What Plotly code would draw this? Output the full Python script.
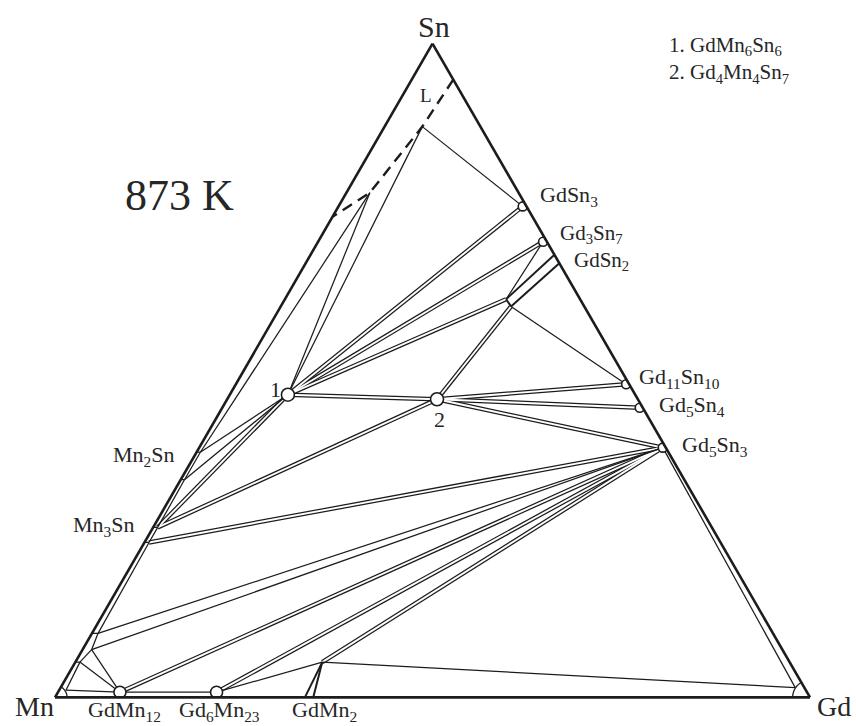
import math
import plotly.graph_objects as go

# ---------------------------------------------------------------------------
# Gd-Mn-Sn isothermal section, compositions in at.%
# ---------------------------------------------------------------------------
point_names = [
    "L_e1", "Lv", "Lw", "L_e2",
    "GdSn3", "Gd3Sn7", "GdSn2_e1", "GdSn2_e2", "GdSn2_s1", "GdSn2_s2",
    "Gd11Sn10", "Gd5Sn4", "Gd5Sn3",
    "P1", "P2",
    "Mn2Sn_a", "Mn2Sn_b", "Mn3Sn_a", "Mn3Sn_b",
    "bMn_a", "bMn_m", "bMn_b", "aMn",
    "GdMn12", "Gd6Mn23", "GdMn2_b1", "GdMn2_b2", "GdMn2_t",
    "Gd_ss",
]
point_sn = [
    94.5, 87.3, 77.2, 73.5,
    75.1, 69.7, 67.7, 66.4, 60.9, 59.8,
    47.9, 44.3, 38.2,
    46.3, 45.6,
    37.5, 33.3, 26.0, 23.7,
    9.8, 7.3, 5.4, 1.1,
    0.8, 0.8, 0.0, 0.0, 5.4,
    1.5,
]
point_gd = [
    5.5, 5.0, 3.1, 0.0,
    24.4, 29.8, 32.3, 33.6, 29.3, 30.5,
    51.7, 55.3, 61.4,
    7.7, 27.8,
    0.5, 0.5, 0.6, 0.6,
    0.8, 1.2, 0.6, 0.9,
    8.2, 21.0, 33.1, 34.2, 32.7,
    97.3,
]
point_mn = [round(100 - s - g, 2) for s, g in zip(point_sn, point_gd)]

# liquidus boundary of the Sn-rich liquid
liquidus_path = ["L_e1", "Lv", "Lw", "L_e2"]

# two-phase fields drawn as double lines
tie_double = [
    ("P1", "GdSn3"), ("P1", "Gd3Sn7"), ("P1", "GdSn2_s1"), ("P1", "P2"),
    ("P1", "Mn3Sn_a"),
    ("P2", "GdSn2_s2"), ("P2", "Gd11Sn10"), ("P2", "Gd5Sn4"), ("P2", "Gd5Sn3"),
    ("P2", "Mn3Sn_a"),
    ("Gd5Sn3", "Mn3Sn_b"), ("Gd5Sn3", "GdMn12"), ("Gd5Sn3", "Gd6Mn23"),
    ("Gd5Sn3", "GdMn2_t"),
]

# single tie lines / phase field borders
tie_single = [
    ("Lv", "GdSn3"), ("Lv", "P1"), ("Lw", "P1"), ("Lw", "Mn2Sn_a"),
    ("P1", "Mn2Sn_a"), ("P1", "Mn2Sn_b"),
    ("Gd3Sn7", "GdSn2_s1"), ("GdSn2_s2", "Gd11Sn10"),
    ("bMn_a", "Gd5Sn3"), ("bMn_m", "Gd5Sn3"), ("bMn_m", "GdMn12"),
    ("bMn_b", "GdMn12"), ("bMn_b", "aMn"), ("aMn", "GdMn12"),
    ("GdMn12", "Gd6Mn23"), ("Gd6Mn23", "GdMn2_t"), ("GdMn2_t", "Gd_ss"),
    ("Gd5Sn3", "Gd_ss"),
    ("Mn2Sn_a", "Mn2Sn_b"), ("Mn2Sn_b", "Mn3Sn_a"), ("Mn3Sn_a", "Mn3Sn_b"),
    ("Mn3Sn_b", "bMn_a"), ("bMn_a", "bMn_m"), ("bMn_m", "bMn_b"),
]

# homogeneity ranges of GdSn2 and GdMn2
band_lines = [
    ("GdSn2_e1", "GdSn2_s1"), ("GdSn2_e2", "GdSn2_s2"), ("GdSn2_s1", "GdSn2_s2"),
    ("GdMn2_b1", "GdMn2_t"), ("GdMn2_b2", "GdMn2_t"),
]

# Mn-Sn phases whose Gd-saturated limits are joined to the binary edge
edge_ticks = ["Mn2Sn_a", "Mn2Sn_b", "Mn3Sn_a", "Mn3Sn_b", "bMn_a", "bMn_b"]

circle_large = ["P1", "P2"]
circle_small = ["GdSn3", "Gd3Sn7", "Gd11Sn10", "Gd5Sn4", "Gd5Sn3"]
circle_base = ["GdMn12", "Gd6Mn23"]

INK = "#1c1c1c"
TXT = "#262626"
FONT = "Liberation Serif"


def comp(name):
    i = point_names.index(name)
    return point_sn[i], point_mn[i], point_gd[i]


def seg_trace(pairs, color, width, dash="solid"):
    a, b, c = [], [], []
    for p, q in pairs:
        for n in (p, q):
            s, m, g = comp(n)
            a.append(s); b.append(m); c.append(g)
        a.append(None); b.append(None); c.append(None)
    return go.Scatterternary(a=a, b=b, c=c, mode="lines",
                             line=dict(color=color, width=width, dash=dash),
                             hoverinfo="skip", showlegend=False)


def corner_arc(corner, radius, t0, t1, n=16):
    # small arc round a pure-element corner, built in the ternary plane
    cx, cy = corner
    a, b, c = [], [], []
    for k in range(n + 1):
        t = math.radians(t0 + (t1 - t0) * k / n)
        x = cx + radius * math.cos(t)
        y = cy + radius * math.sin(t)
        sa = y * 2 / math.sqrt(3)
        sc = x - sa / 2
        a.append(100 * sa); c.append(100 * sc); b.append(100 * (1 - sa - sc))
    return go.Scatterternary(a=a, b=b, c=c, mode="lines",
                             line=dict(color=INK, width=1.3),
                             hoverinfo="skip", showlegend=False)


fig = go.Figure()

# double lines: dark stroke with a white core
fig.add_trace(seg_trace(tie_double, INK, 4.4))
fig.add_trace(seg_trace(tie_double, "white", 1.9))
fig.add_trace(seg_trace(tie_single, INK, 1.25))
fig.add_trace(seg_trace(band_lines, INK, 2.0))

ta, tb, tc = [], [], []
for n in edge_ticks:
    s0, m0, g0 = comp(n)
    ta += [s0, s0, None]; tb += [m0, 100 - s0, None]; tc += [g0, 0, None]
fig.add_trace(go.Scatterternary(a=ta, b=tb, c=tc, mode="lines",
                                line=dict(color=INK, width=1.25),
                                hoverinfo="skip", showlegend=False))

# Sn-rich liquid boundary
la = [comp(n)[0] for n in liquidus_path]
lb = [comp(n)[1] for n in liquidus_path]
lc = [comp(n)[2] for n in liquidus_path]
fig.add_trace(go.Scatterternary(a=la, b=lb, c=lc, mode="lines",
                                line=dict(color=INK, width=2.4, dash="11px,7px"),
                                hoverinfo="skip", showlegend=False))

# solid solutions at the Mn and Gd corners
fig.add_trace(corner_arc((0.0, 0.0), 0.016, 0, 60))
fig.add_trace(corner_arc((1.0, 0.0), 0.023, 120, 180))


def circles(names, size):
    return go.Scatterternary(
        a=[comp(n)[0] for n in names], b=[comp(n)[1] for n in names],
        c=[comp(n)[2] for n in names], mode="markers",
        marker=dict(symbol="circle", size=size, color="white",
                    line=dict(color=INK, width=1.6)),
        hoverinfo="skip", showlegend=False)


fig.add_trace(circles(circle_base, 12))
fig.add_trace(circles(circle_small, 9))
fig.add_trace(circles(circle_large, 13))

axis = dict(showgrid=False, showticklabels=False, ticks="", showline=True,
            linecolor=INK, linewidth=2.6, title=dict(text=""))

W, H = 856, 726
L, R, T, B = 55, 46, 43, 28
PW, PH = W - L - R, H - T - B


def note(text, X, Y, size, xanchor="left"):
    # X, Y: anchor x and text baseline in page pixels
    fig.add_annotation(text=text, xref="paper", yref="paper",
                       x=(X - L) / PW, y=(H - B - (Y - 0.34 * size)) / PH,
                       xanchor=xanchor, yanchor="middle", showarrow=False,
                       font=dict(family=FONT, size=size, color=TXT))


note("Sn", 434, 37, 30, "center")
note("Mn", 13, 716, 28)
note("Gd", 815, 716, 28)
note("873 K", 123, 210, 44)
note("L", 418, 102, 19)
note("1", 268, 397, 22)
note("2", 432, 427, 22)
note("GdSn<sub>3</sub>", 538, 203, 22)
note("Gd<sub>3</sub>Sn<sub>7</sub>", 558, 241, 21)
note("GdSn<sub>2</sub>", 572, 268, 21)
note("Gd<sub>11</sub>Sn<sub>10</sub>", 637, 385, 22)
note("Gd<sub>5</sub>Sn<sub>4</sub>", 657, 413, 22)
note("Gd<sub>5</sub>Sn<sub>3</sub>", 680, 453, 22)
note("Mn<sub>2</sub>Sn", 177, 463, 22, "right")
note("Mn<sub>3</sub>Sn", 137, 533, 22, "right")
note("GdMn<sub>12</sub>", 86, 718, 22)
note("Gd<sub>6</sub>Mn<sub>23</sub>", 177, 718, 22)
note("GdMn<sub>2</sub>", 290, 718, 22)

# compound key, two lines in one block
fig.add_annotation(
    text="1. GdMn<sub>6</sub>Sn<sub>6</sub><br>2. Gd<sub>4</sub>Mn<sub>4</sub>Sn<sub>7</sub>",
    xref="paper", yref="paper", x=(667 - L) / PW, y=(H - B - 60) / PH,
    xanchor="left", yanchor="middle", align="left", showarrow=False,
    font=dict(family=FONT, size=21, color=TXT))

fig.update_layout(
    width=W, height=H,
    margin=dict(l=L, r=R, t=T, b=B, autoexpand=False),
    paper_bgcolor="white", plot_bgcolor="white",
    showlegend=False,
    ternary=dict(sum=100, bgcolor="white",
                 domain=dict(x=[0, 1], y=[0, 1]),
                 aaxis=axis, baxis=axis, caxis=axis),
)

fig.write_html("out.html")
